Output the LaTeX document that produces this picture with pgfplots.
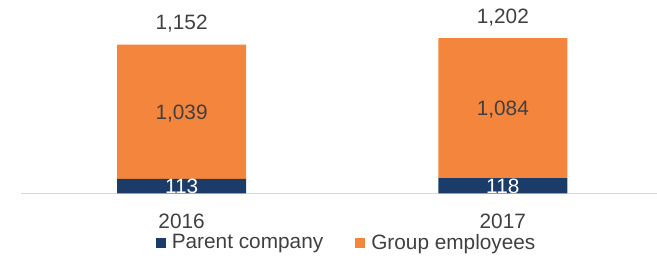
\documentclass[border=0pt]{standalone}
\usepackage{fontspec}
\setmainfont{Liberation Sans}
\usepackage{pgfplots}
\usepackage{pgfplotstable}
\pgfplotsset{compat=1.18}
\definecolor{navy}{HTML}{1B3C69}
\definecolor{orng}{HTML}{F4853D}
\definecolor{txt}{HTML}{404040}
\definecolor{axl}{HTML}{D9D9D9}
\newcommand\fs{\fontsize{20.8}{24}\selectfont}
\pgfplotstableread{
x parent group
0 113 1039
1 118 1084
}\bars
\pgfplotstableread{
x y lab
0 56.5 113
1 59 118
}\parentlab
\pgfplotstableread{
x y lab
0 632.5 1,039
1 660 1,084
}\grouplab
\pgfplotstableread{
x y lab
0 1152 1,152
1 1202 1,202
}\totallab
\begin{document}
\begin{tikzpicture}
\pgfplotsset{common/.style={
  at={(0,0)}, anchor=south west,
  scale only axis, width=636pt, height=168pt,
  xmin=-0.5, xmax=1.48, ymin=0, ymax=1300, clip=false}}
\begin{axis}[common,
  ybar stacked, bar width=129pt,
  axis y line=none, axis x line*=bottom,
  x axis line style={draw=axl, line width=1.5pt},
  xtick={0,1}, xticklabels={2016,2017}, major tick length=0pt,
  xticklabel style={font=\fs, text=txt, anchor=base, yshift=-35pt},
  tick label style={/pgf/number format/assume math mode=true},
  legend style={at={(0.512,-0.2917)}, anchor=center, draw=none, fill=none,
    legend columns=2, font=\fs, text=txt,
    /tikz/every odd column/.append style={column sep=4pt},
    /tikz/every even column/.append style={column sep=30pt}},
  legend image code/.code={\fill[#1] (0pt,-5pt) rectangle (10pt,5pt);},
  ]
\addplot[fill=navy, draw=none] table[x=x, y=parent] {\bars};
\addlegendentry{Parent company}
\addplot[fill=orng, draw=none] table[x=x, y=group] {\bars};
\addlegendentry{Group employees}
\end{axis}
\begin{axis}[common, hide axis]
\addplot[draw=none, mark=none, nodes near coords, point meta=explicit symbolic,
  every node near coord/.append style={font=\fs, text=white, anchor=base, yshift=-7.3pt}]
  table[x=x, y=y, meta=lab] {\parentlab};
\addplot[draw=none, mark=none, nodes near coords, point meta=explicit symbolic,
  every node near coord/.append style={font=\fs, text=txt, anchor=base, yshift=-7.3pt}]
  table[x=x, y=y, meta=lab] {\grouplab};
\addplot[draw=none, mark=none, nodes near coords, point meta=explicit symbolic,
  every node near coord/.append style={font=\fs, text=txt, anchor=base, yshift=15pt}]
  table[x=x, y=y, meta=lab] {\totallab};
\end{axis}
\pgfresetboundingbox
\path (-21pt,-65.5pt) rectangle (636pt,193.5pt);
\end{tikzpicture}
\end{document}
